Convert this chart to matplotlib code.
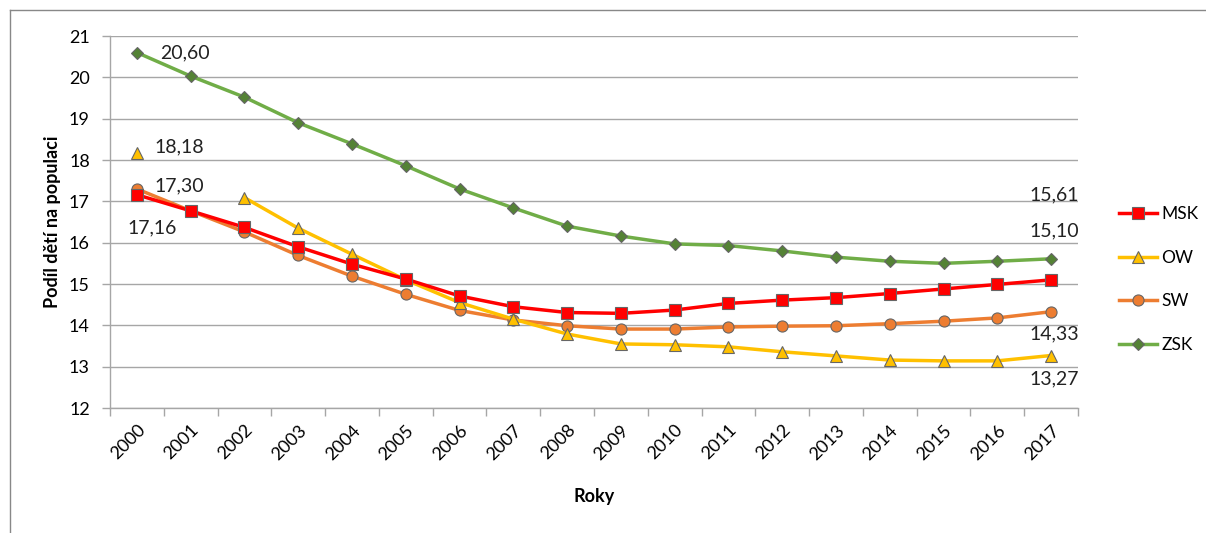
import matplotlib
matplotlib.use("Agg")
import matplotlib.pyplot as plt
import numpy as np
from matplotlib.lines import Line2D

years = [str(y) for y in range(2000, 2018)]
msk = [17.16, 16.77, 16.37, 15.90, 15.48, 15.12, 14.71, 14.45, 14.31, 14.29,
       14.37, 14.53, 14.61, 14.67, 14.77, 14.88, 14.99, 15.10]
ow = [18.18, None, 17.09, 16.35, 15.72, 15.10, 14.55, 14.15, 13.79, 13.55,
      13.53, 13.48, 13.36, 13.26, 13.16, 13.14, 13.14, 13.27]
sw = [17.30, 16.77, 16.26, 15.69, 15.19, 14.75, 14.36, 14.13, 13.99, 13.91,
      13.91, 13.96, 13.98, 13.99, 14.04, 14.10, 14.18, 14.33]
zsk = [20.60, 20.03, 19.52, 18.90, 18.39, 17.86, 17.30, 16.84, 16.40, 16.16,
       15.97, 15.93, 15.80, 15.65, 15.55, 15.50, 15.55, 15.61]
series_names = ["MSK", "OW", "SW", "ZSK"]

plt.rcParams['font.family'] = ['Lato', 'DejaVu Sans']

fig = plt.figure(figsize=(12.06, 5.33), dpi=100)
ax = fig.add_axes([110/1206, 1-408/533, (1078-110)/1206, (408-36)/533])

x = np.arange(len(years))
def arr(v):
    return np.array([np.nan if a is None else a for a in v], dtype=float)

styles = {
    "MSK": dict(color="#FF0000", marker="s", ms=8, mfc="#FF0000"),
    "OW": dict(color="#FFC000", marker="^", ms=8, mfc="#FFC000"),
    "SW": dict(color="#ED7D31", marker="o", ms=8, mfc="#ED7D31"),
    "ZSK": dict(color="#70AD47", marker="D", ms=6.5, mfc="#548235"),
}
data = {"MSK": msk, "OW": ow, "SW": sw, "ZSK": zsk}
zorders = {"ZSK": 3, "SW": 4, "OW": 5, "MSK": 6}
handles = []
for name in series_names:
    s = styles[name]
    ax.plot(x, arr(data[name]), color=s["color"], lw=2.5, marker=s["marker"],
            ms=s["ms"], mfc=s["mfc"], mec="#666666", mew=0.8, zorder=zorders[name])
    handles.append(Line2D([], [], color=s["color"], lw=2.5, marker=s["marker"],
                          ms=s["ms"], mfc=s["mfc"], mec="#666666", mew=0.8))

ax.set_xlim(-0.5, len(years) - 0.5)
ax.set_ylim(12, 21)
ax.set_yticks(np.arange(12, 22, 1))
ax.set_xticks(x)
ax.set_xticklabels(years, rotation=45, ha="right", rotation_mode="anchor")
ax.set_xticks(np.arange(-0.5, len(years), 1), minor=True)
ax.tick_params(axis="x", which="major", length=0, labelsize=13, pad=10, colors="black")
ax.tick_params(axis="x", which="minor", length=6, color="#A6A6A6", width=1)
ax.tick_params(axis="y", which="major", length=6, color="#A6A6A6", width=1,
               labelsize=13, pad=8.5)
ax.grid(axis="y", color="#A6A6A6", lw=1, zorder=0)
ax.set_axisbelow(True)
for sp in ["top", "right"]:
    ax.spines[sp].set_visible(False)
for sp in ["left", "bottom"]:
    ax.spines[sp].set_color("#A6A6A6")
    ax.spines[sp].set_linewidth(1)

ax.set_ylabel("Podíl dětí na populaci", fontsize=13, fontweight="bold", labelpad=6)
ax.set_xlabel("Roky", fontsize=13, fontweight="bold", labelpad=18)

fs = 14
ax.annotate("20,60", (0, zsk[0]), xytext=(17, 0), textcoords="offset points",
            ha="left", va="center", fontsize=fs, color="#222222")
ax.annotate("18,18", (0, ow[0]), xytext=(13, 4), textcoords="offset points",
            ha="left", va="center", fontsize=fs, color="#222222")
ax.annotate("17,30", (0, sw[0]), xytext=(13, 2), textcoords="offset points",
            ha="left", va="center", fontsize=fs, color="#222222")
ax.annotate("17,16", (0, msk[0]), xytext=(-7, -24), textcoords="offset points",
            ha="left", va="center", fontsize=fs, color="#222222")
last = len(years) - 1
ax.annotate("15,61", (last, zsk[last]), xytext=(20, 46), textcoords="offset points",
            ha="right", va="center", fontsize=fs, color="#222222")
ax.annotate("15,10", (last, msk[last]), xytext=(20, 35), textcoords="offset points",
            ha="right", va="center", fontsize=fs, color="#222222")
ax.annotate("14,33", (last, sw[last]), xytext=(20, -16), textcoords="offset points",
            ha="right", va="center", fontsize=fs, color="#222222")
ax.annotate("13,27", (last, ow[last]), xytext=(20, -17), textcoords="offset points",
            ha="right", va="center", fontsize=fs, color="#222222")

fig.legend(handles, series_names, loc="upper left",
           bbox_to_anchor=(1112/1206, 1-199/533), frameon=False, fontsize=12.5,
           handlelength=2.2, labelspacing=1.6, handletextpad=0.25, borderaxespad=0)

# outer border (top and left visible)
fig.add_artist(Line2D([10/1206, 10/1206], [0, 1-10/533], color="#888888", lw=1,
                      transform=fig.transFigure))
fig.add_artist(Line2D([10/1206, 1], [1-10/533, 1-10/533], color="#888888", lw=1,
                      transform=fig.transFigure))

fig.savefig("out.png", dpi=100, facecolor="white")
